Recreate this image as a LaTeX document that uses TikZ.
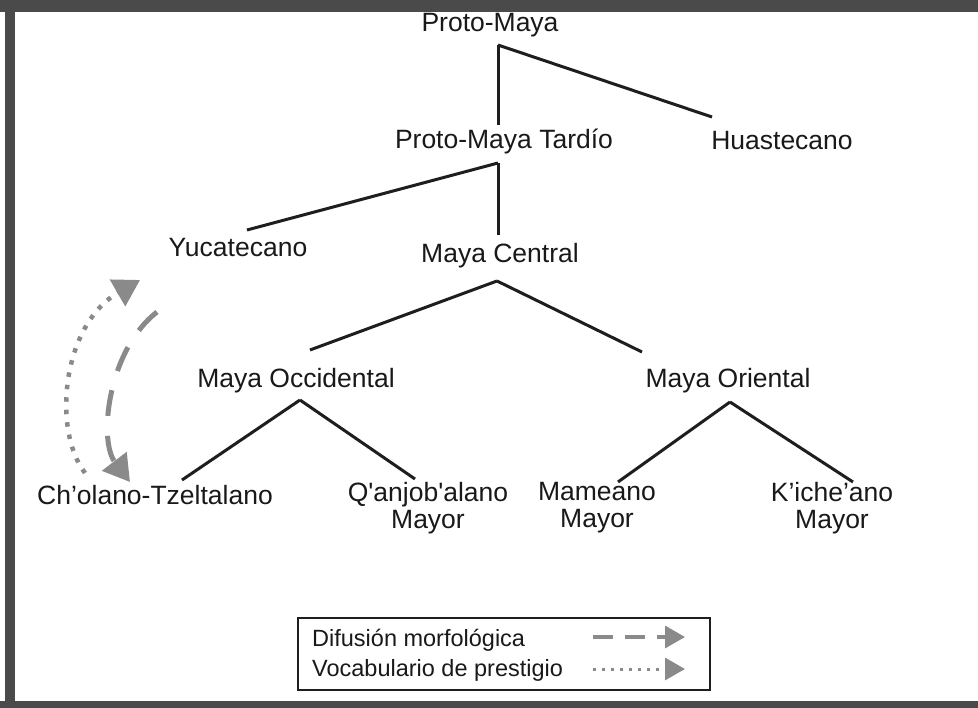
\documentclass[tikz,border=0pt]{standalone}
\usepackage{fontspec}
\setmainfont{Liberation Sans}
\usetikzlibrary{arrows.meta}
\definecolor{tree}{HTML}{1E1E1E}
\definecolor{arr}{HTML}{8A8A8A}
\definecolor{frame}{HTML}{4A4A4A}
\begin{document}
\begin{tikzpicture}[x=1pt,y=-1pt,
  lbl/.style={inner sep=0pt,font=\fontsize{26.5}{27}\selectfont,align=center,text=black!90},
  leg/.style={inner sep=0pt,font=\fontsize{23.5}{26}\selectfont,anchor=west,text=black!90},
  branch/.style={draw=tree,line width=3pt},
  bigtip/.style={-{Triangle[width=30pt,length=26pt]}},
  smalltip/.style={-{Triangle[width=22pt,length=20pt]}},
  morph/.style={draw=arr,line width=5pt,dash pattern=on 26pt off 20pt},
  prest/.style={draw=arr,line width=4.5pt,dash pattern=on 4.5pt off 8pt},
  ]
\useasboundingbox (0,0) rectangle (978,708);
\fill[white] (0,0) rectangle (978,708);
% frame
\fill[frame] (0,0) rectangle (978,12);
\fill[frame] (5,0) rectangle (15,708);
\fill[frame] (0,701) rectangle (978,708);

% nodes
\node[lbl] (pm)  at (490,25)  {Proto-Maya};
\node[lbl] (pmt) at (504,141) {Proto-Maya Tardío};
\node[lbl] (hua) at (782,141) {Huastecano};
\node[lbl] (yuc) at (238,248) {Yucatecano};
\node[lbl] (mc)  at (500,256) {Maya Central};
\node[lbl] (moc) at (296,381) {Maya Occidental};
\node[lbl] (mor) at (728,381) {Maya Oriental};
\node[lbl] (cho) at (155,495) {Ch’olano-Tzeltalano};
\node[lbl] (qan) at (428,508) {Q\textquotesingle anjob\textquotesingle alano\\Mayor};
\node[lbl] (mam) at (597,508) {Mameano\\Mayor};
\node[lbl] (kic) at (832,508) {K’iche’ano\\Mayor};

% junctions and branch ends
\coordinate (j1) at (498,45);
\coordinate (e1a) at (498,125);
\coordinate (e1b) at (712,117);
\coordinate (j2) at (498,163);
\coordinate (e2a) at (247,230);
\coordinate (e2b) at (498,235);
\coordinate (j3) at (497,281);
\coordinate (e3a) at (310,350);
\coordinate (e3b) at (642,352);
\coordinate (j4) at (300,400);
\coordinate (e4a) at (182,480);
\coordinate (e4b) at (415,479);
\coordinate (j5) at (730,402);
\coordinate (e5a) at (618,482);
\coordinate (e5b) at (853,482);

\draw[branch] (j1) -- (e1a);
\draw[branch] (j1) -- (e1b);
\draw[branch] (j2) -- (e2a);
\draw[branch] (j2) -- (e2b);
\draw[branch] (j3) -- (e3a);
\draw[branch] (j3) -- (e3b);
\draw[branch] (j4) -- (e4a);
\draw[branch] (j4) -- (e4b);
\draw[branch] (j5) -- (e5a);
\draw[branch] (j5) -- (e5b);

% curved diffusion arrows
\coordinate (pa) at (85,473);
\coordinate (pb) at (140,280);
\draw[prest,bigtip,arr] (pa) .. controls (52,430) and (62,325) .. (pb);
\coordinate (ma) at (157,312);
\coordinate (mb) at (130,482);
\draw[morph,bigtip,arr] (ma) .. controls (108,350) and (98,440) .. (mb);

% legend
\node[draw=tree,line width=1.6pt,minimum width=412pt,minimum height=72pt,inner sep=0pt] (box) at (504,654) {};
\node[leg] (l1) at (312,640) {Difusión morfológica};
\node[leg] (l2) at (312,670) {Vocabulario de prestigio};
\coordinate (d1a) at (593,637);
\coordinate (d1b) at (685,637);
\coordinate (d2a) at (593,669);
\coordinate (d2b) at (685,669);
\draw[draw=arr,line width=3.5pt,dash pattern=on 20pt off 12pt,smalltip,arr] (d1a) -- (d1b);
\draw[draw=arr,line width=3pt,dash pattern=on 3pt off 6pt,smalltip,arr] (d2a) -- (d2b);
\end{tikzpicture}
\end{document}
